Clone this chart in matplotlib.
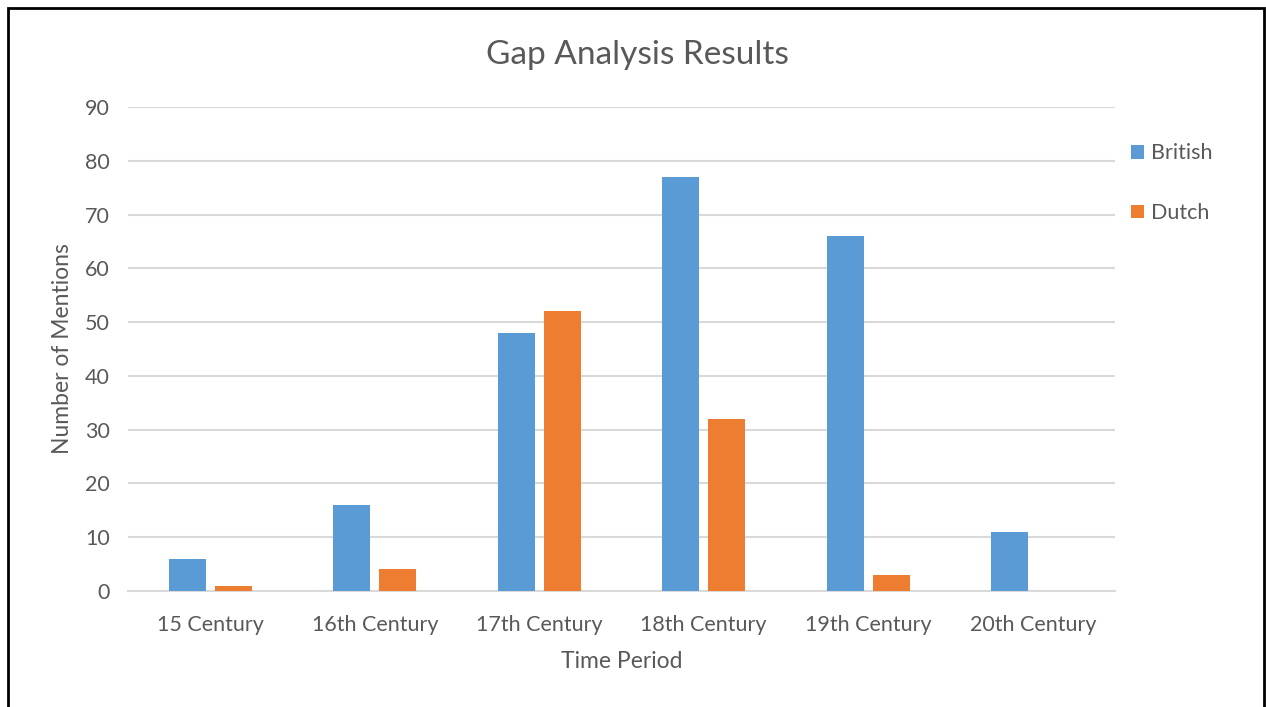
import matplotlib
matplotlib.use("Agg")
import matplotlib.pyplot as plt
import numpy as np
from matplotlib.patches import Rectangle

categories = ["15 Century", "16th Century", "17th Century", "18th Century", "19th Century", "20th Century"]
british = [6, 16, 48, 77, 66, 11]
dutch = [1, 4, 52, 32, 3, 0]
yticks = [0, 10, 20, 30, 40, 50, 60, 70, 80, 90]

plt.rcParams['font.family'] = ['Lato', 'DejaVu Sans']
gray = '#595959'

fig = plt.figure(figsize=(12.66, 7.07), dpi=100)
ax = fig.add_axes([128/1266, 1-591/707, (1115-128)/1266, (591-107)/707])

x = np.arange(len(categories))
w = 0.225
off = 0.14
ax.bar(x - off, british, w, color='#5b9bd5', label='British', zorder=3)
ax.bar(x + off, dutch, w, color='#ed7d31', label='Dutch', zorder=3)

ax.set_xlim(-0.5, len(categories) - 0.5)
ax.set_ylim(0, 90)
ax.set_yticks(yticks)
ax.set_xticks(x)
ax.set_xticklabels(categories)
ax.yaxis.grid(True, color='#d9d9d9', linewidth=1.5, zorder=0)
ax.set_axisbelow(True)
for s in ['top', 'right', 'left']:
    ax.spines[s].set_visible(False)
ax.spines['bottom'].set_color('#d9d9d9')
ax.spines['bottom'].set_linewidth(1.5)
ax.tick_params(axis='both', length=0, labelsize=15.5, colors=gray)
ax.tick_params(axis='y', pad=13)
ax.tick_params(axis='x', pad=17)

ax.set_xlabel('Time Period', fontsize=16.5, color=gray, labelpad=12)
ax.set_ylabel('Number of Mentions', fontsize=16.5, color=gray, labelpad=9)
fig.text(637/1266, 1-55/707, 'Gap Analysis Results', fontsize=24, color=gray,
         ha='center', va='center')

leg = ax.legend(loc='upper left', bbox_to_anchor=(0.997, 0.965), frameon=False,
                fontsize=15.5, labelcolor=gray, handlelength=0.6, handleheight=0.6,
                handletextpad=0.3, labelspacing=1.85)

fig.patches.append(Rectangle((8/1266, -0.05), (1264-8)/1266, 1.05 - 8/707,
                             transform=fig.transFigure, fill=False,
                             edgecolor='black', linewidth=2, zorder=10))

fig.savefig('out.png', dpi=100)
